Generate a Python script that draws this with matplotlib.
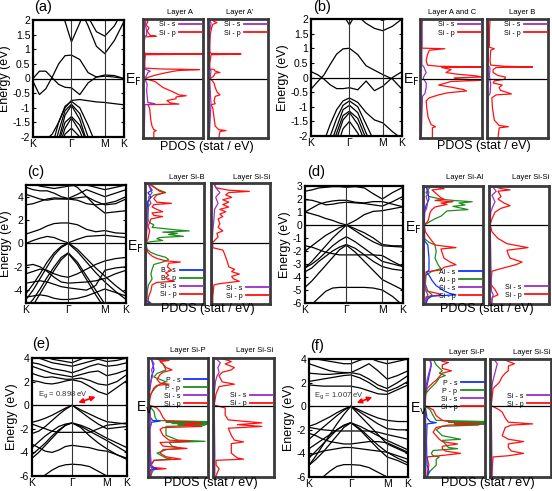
import matplotlib
matplotlib.use('Agg')
import matplotlib.pyplot as plt
from matplotlib.lines import Line2D

plt.rcParams['font.family'] = ['Liberation Sans', 'DejaVu Sans']
plt.rcParams['axes.unicode_minus'] = False

# ---------------- k path (K - Gamma - M - K) ----------------
kpath = [0.0, 0.222, 0.444, 0.667, 0.889, 1.111, 1.333, 1.622, 1.911, 2.199, 2.488, 2.822, 3.155]
k_sym = [0.0, 1.333, 2.488, 3.155]
k_labels = ['K', 'Γ', 'M', 'K']

# ---------------- band energies (eV) at kpath points ----------------
bands_a = [
    [0.0, 0.25, 0.25, 0.02, -0.2, -0.3, -0.32, -0.55, -0.15, 0.05, 0.08, 0.05, 0.0],
    [-0.1, -0.55, -0.35, 0.05, 0.5, 0.78, 0.8, 0.65, 0.2, 0.05, 0.12, 0.1, 0.0],
    [-2.5, -2.3, -2.1, -1.9, -1.5, -1.0, -0.75, -0.72, -0.76, -0.8, -0.82, -0.86, -0.9],
    [-3.0, -3.0, -2.9, -2.3, -1.5, -0.95, -0.78, -1.0, -1.6, -2.3, -2.8, -3.0, -3.0],
    [-3.0, -3.0, -3.0, -2.6, -1.8, -1.1, -0.88, -1.2, -2.0, -2.6, -3.0, -3.0, -3.0],
    [-3.0, -3.0, -3.0, -2.9, -2.1, -1.25, -0.92, -1.4, -2.3, -2.9, -3.0, -3.0, -3.0],
    [-3.0, -3.0, -3.0, -3.0, -2.2, -1.5, -1.3, -1.6, -2.3, -3.0, -3.0, -3.0, -3.0],
    [-3.0, -3.0, -3.0, -3.0, -2.4, -1.7, -1.35, -1.8, -2.5, -3.0, -3.0, -3.0, -3.0],
    [-3.0, -3.0, -3.0, -3.0, -2.5, -1.9, -1.7, -2.0, -2.6, -3.0, -3.0, -3.0, -3.0],
    [3.5, 3.2, 3.0, 2.8, 2.5, 1.95, 1.25, 1.9, 2.6, 3.0, 3.2, 3.3, 3.5],
    [3.0, 3.0, 3.0, 3.0, 3.0, 3.0, 3.0, 2.4, 1.8, 1.1, 0.85, 1.3, 1.95],
    [3.5, 3.5, 3.5, 3.5, 3.5, 3.5, 3.2, 2.6, 2.1, 1.6, 1.45, 1.8, 2.4],
]
bands_b = [
    [0.2, 0.1, -0.05, -0.25, -0.38, -0.38, -0.35, -0.42, -0.12, -0.45, -0.3, 0.0, 0.2],
    [-0.4, -0.15, 0.08, 0.45, 0.8, 0.98, 1.0, 0.78, 0.4, 0.25, 0.1, -0.05, -0.4],
    [3.0, 3.0, 3.0, 3.0, 3.0, 2.15, 1.8, 2.3, 3.0, 3.0, 3.0, 3.0, 3.0],
    [3.0, 3.0, 3.0, 3.0, 3.0, 3.0, 2.6, 2.1, 1.85, 1.68, 1.6, 1.75, 2.0],
    [3.2, 3.2, 3.2, 3.2, 3.2, 3.2, 3.0, 2.6, 2.3, 2.05, 1.95, 2.1, 2.5],
    [-3.0, -2.8, -2.2, -1.6, -1.1, -0.8, -0.7, -0.85, -1.2, -1.45, -1.55, -1.85, -2.1],
    [-3.0, -3.0, -2.6, -2.0, -1.4, -0.95, -0.8, -1.0, -1.6, -2.2, -2.8, -3.0, -3.0],
    [-3.0, -3.0, -2.9, -2.3, -1.7, -1.1, -0.95, -1.2, -1.9, -2.5, -3.0, -3.0, -3.0],
    [-3.0, -3.0, -3.0, -2.5, -1.9, -1.3, -1.15, -1.4, -2.1, -2.8, -3.0, -3.0, -3.0],
    [-3.0, -3.0, -3.0, -2.8, -2.1, -1.45, -1.2, -1.6, -2.3, -3.0, -3.0, -3.0, -3.0],
    [-3.0, -3.0, -3.0, -3.0, -2.4, -1.75, -1.5, -1.9, -2.5, -3.0, -3.0, -3.0, -3.0],
]
bands_c = [
    [0.8, 1.0, 1.2, 1.5, 1.7, 1.75, 1.75, 1.6, 1.2, 1.0, 1.1, 0.9, 0.85],
    [0.0, 0.25, 0.45, 0.6, 0.5, 0.25, 0.05, 0.35, 0.6, 0.65, 0.7, 0.6, 0.5],
    [3.3, 3.4, 3.6, 3.8, 3.9, 3.85, 3.8, 3.7, 3.4, 3.3, 3.4, 3.6, 4.0],
    [4.2, 4.0, 3.8, 3.7, 3.8, 3.8, 3.8, 3.9, 4.0, 3.6, 3.3, 3.4, 3.8],
    [4.8, 4.6, 4.5, 4.5, 4.3, 4.0, 3.85, 4.2, 4.6, 4.3, 4.0, 4.3, 4.6],
    [5.3, 5.1, 4.9, 4.8, 4.7, 4.8, 4.9, 5.0, 5.0, 4.8, 4.6, 4.8, 5.0],
    [6.0, 6.0, 6.0, 6.0, 6.0, 5.5, 5.2, 4.8, 4.0, 3.2, 2.6, 2.7, 2.8],
    [-4.3, -3.5, -2.6, -1.6, -0.8, -0.25, 0.05, -0.5, -1.3, -2.1, -2.8, -3.6, -4.3],
    [-4.8, -4.0, -3.0, -2.0, -1.0, -0.35, 0.0, -0.7, -1.6, -2.5, -3.3, -4.1, -4.8],
    [-5.5, -4.8, -3.9, -2.9, -2.0, -1.2, -0.8, -1.6, -2.8, -4.0, -5.2, -5.5, -5.5],
    [-6.0, -5.3, -4.3, -3.3, -2.3, -1.4, -0.85, -1.8, -3.1, -4.4, -5.6, -6.0, -6.0],
    [-1.9, -1.8, -2.0, -2.4, -2.9, -3.3, -3.4, -3.35, -3.3, -3.2, -3.0, -2.6, -2.3],
    [-2.6, -2.4, -2.2, -2.3, -2.6, -2.8, -2.9, -2.6, -2.2, -1.8, -1.5, -1.3, -1.2],
    [-3.4, -3.3, -3.2, -3.3, -3.5, -3.7, -3.8, -3.9, -4.0, -3.6, -2.3, -2.1, -2.0],
    [-4.6, -4.5, -4.4, -4.5, -4.7, -4.8, -4.8, -4.7, -4.5, -4.2, -3.9, -4.2, -4.5],
]
bands_d = [
    [2.6, 2.7, 2.85, 2.9, 2.95, 2.95, 2.9, 2.95, 2.85, 2.4, 2.0, 2.5, 2.9],
    [1.95, 1.9, 1.75, 1.55, 1.6, 1.7, 1.75, 1.7, 1.65, 1.55, 1.45, 1.8, 2.2],
    [1.0, 1.3, 1.6, 1.75, 1.85, 1.9, 1.9, 1.75, 1.7, 1.8, 1.8, 1.6, 1.4],
    [1.0, 0.85, 0.7, 0.5, 0.35, 0.15, 0.0, 0.35, 0.8, 1.05, 1.1, 1.25, 1.4],
    [-3.3, -2.8, -2.2, -1.6, -1.0, -0.5, 0.0, -0.45, -0.9, -1.3, -1.6, -1.65, -1.7],
    [-2.0, -1.6, -1.2, -0.8, -0.5, -0.2, 0.0, -0.3, -0.6, -1.0, -1.5, -1.6, -1.6],
    [-3.3, -3.0, -2.6, -2.1, -1.6, -1.2, -0.9, -1.3, -1.8, -2.3, -2.8, -3.0, -3.2],
    [-3.6, -3.3, -2.8, -2.4, -2.0, -1.7, -1.5, -1.8, -2.3, -2.8, -3.2, -3.4, -3.5],
    [-4.8, -4.3, -3.7, -3.1, -2.5, -1.9, -1.55, -2.1, -2.8, -3.5, -4.2, -4.6, -5.0],
    [-1.6, -1.7, -1.9, -2.1, -2.2, -2.3, -2.3, -2.3, -2.3, -2.3, -2.35, -2.8, -3.2],
    [-6.5, -6.1, -5.6, -5.1, -4.85, -4.8, -4.8, -4.8, -4.8, -4.85, -5.0, -5.5, -6.2],
]
bands_e = [
    [2.1, 2.0, 1.85, 1.8, 1.9, 2.05, 2.15, 2.0, 1.6, 1.15, 0.9, 1.5, 2.1],
    [2.7, 2.5, 2.35, 2.4, 2.3, 2.2, 2.2, 2.3, 2.1, 1.8, 1.7, 2.0, 2.6],
    [3.3, 3.1, 2.9, 2.7, 2.6, 2.5, 2.4, 2.6, 2.8, 2.9, 2.5, 2.7, 3.0],
    [3.6, 3.5, 3.3, 3.1, 3.0, 2.9, 2.75, 3.0, 3.3, 3.5, 3.3, 3.4, 3.6],
    [4.2, 4.0, 3.8, 3.6, 3.5, 3.4, 3.3, 3.5, 3.7, 3.9, 3.7, 3.8, 4.0],
    [4.5, 4.3, 4.1, 3.9, 3.8, 3.7, 3.6, 3.9, 4.2, 4.5, 4.5, 4.3, 4.1],
    [-1.45, -1.3, -1.1, -0.85, -0.55, -0.25, 0.0, -0.4, -0.75, -1.1, -1.4, -1.5, -1.6],
    [-2.4, -2.2, -1.8, -1.3, -0.8, -0.35, 0.0, -0.55, -1.1, -1.6, -2.0, -1.9, -1.8],
    [-4.2, -3.7, -3.2, -2.6, -2.1, -1.7, -1.5, -1.8, -2.2, -2.6, -3.0, -3.5, -4.0],
    [-3.6, -3.1, -2.6, -2.2, -1.8, -1.6, -1.5, -1.7, -2.0, -2.4, -2.8, -3.2, -3.6],
    [-4.5, -4.0, -3.4, -2.8, -2.2, -1.7, -1.5, -1.9, -2.6, -3.2, -3.7, -4.2, -4.6],
    [-1.6, -1.8, -2.0, -2.2, -2.3, -2.3, -2.3, -2.3, -2.3, -2.0, -1.7, -1.6, -1.5],
    [-3.3, -3.6, -3.9, -4.0, -3.8, -3.5, -3.4, -3.5, -3.6, -3.8, -3.9, -4.2, -4.5],
    [-6.5, -6.3, -5.9, -5.5, -5.2, -5.05, -5.0, -5.05, -5.2, -5.6, -6.0, -6.3, -6.5],
]
bands_f = [
    [1.8, 1.75, 1.7, 1.7, 1.7, 1.7, 1.7, 1.55, 1.3, 1.05, 1.0, 1.4, 1.8],
    [2.1, 2.2, 2.3, 2.4, 2.5, 2.6, 2.65, 2.4, 2.0, 1.5, 1.25, 1.6, 2.1],
    [2.8, 2.75, 2.7, 2.7, 2.75, 2.8, 2.85, 2.7, 2.3, 1.8, 1.5, 2.0, 2.6],
    [3.6, 3.4, 3.2, 3.0, 2.9, 2.85, 2.85, 3.2, 3.6, 3.0, 2.3, 2.6, 3.0],
    [4.2, 4.0, 3.9, 3.8, 3.7, 3.6, 3.6, 3.9, 4.1, 3.8, 3.6, 3.8, 4.0],
    [-1.7, -1.5, -1.2, -0.9, -0.55, -0.25, 0.0, -0.35, -0.7, -1.0, -1.2, -1.3, -1.3],
    [-2.8, -2.3, -1.8, -1.3, -0.8, -0.35, 0.0, -0.5, -1.0, -1.5, -1.9, -2.0, -2.0],
    [-5.0, -4.2, -3.3, -2.4, -1.5, -0.7, 0.0, -0.8, -1.6, -2.4, -3.2, -3.6, -4.0],
    [-3.6, -3.2, -2.8, -2.4, -2.0, -1.65, -1.4, -1.7, -2.1, -2.5, -2.9, -3.3, -3.7],
    [-4.4, -3.8, -3.2, -2.6, -2.0, -1.6, -1.4, -1.9, -2.6, -3.3, -3.9, -4.2, -4.5],
    [-5.0, -4.5, -3.9, -3.2, -2.5, -1.8, -1.4, -2.0, -2.8, -3.6, -4.3, -4.6, -5.0],
    [-1.8, -1.9, -2.0, -2.05, -2.1, -2.1, -2.1, -2.1, -2.1, -2.2, -2.4, -2.6, -2.8],
    [-2.3, -2.5, -2.8, -3.0, -3.1, -3.2, -3.2, -3.1, -3.0, -3.0, -3.1, -3.5, -3.9],
    [-6.6, -6.4, -6.0, -5.5, -5.1, -4.95, -4.95, -5.0, -5.2, -5.6, -6.0, -6.4, -6.6],
    [-4.2, -4.0, -3.8, -3.7, -3.6, -3.5, -3.5, -3.6, -3.7, -3.8, -3.9, -4.4, -4.8],
]

# ---------------- PDOS curves: (energy eV, states/eV scaled) ----------------
a_A_p = [(2.0, .06), (1.9, .08), (1.8, .05), (1.7, .1), (1.6, .07), (1.5, .1), (1.45, .12), (1.42, .22), (1.4, .03),
         (1.2, .02), (0.9, .02), (0.84, .04), (0.82, 1.0), (0.8, .04), (0.6, .03), (0.35, .03), (0.32, .3), (0.3, .94),
         (0.27, .6), (0.24, .5), (0.18, .35), (0.12, .22), (0.06, .12), (0.02, .05), (-0.02, .06), (-0.1, .2),
         (-0.3, .33), (-0.45, .5), (-0.55, .6), (-0.58, .72), (-0.62, .55), (-0.68, .55), (-0.74, .4), (-0.82, .45),
         (-0.86, .6), (-0.88, .08), (-1.0, .11), (-1.2, .12), (-1.4, .13), (-1.6, .15), (-1.72, .18), (-1.75, .22),
         (-1.8, .18), (-2.0, .18)]
a_A_s = [(2.0, .05), (1.8, .04), (1.6, .06), (1.45, .06), (1.4, .02), (0.85, .02), (0.82, .04), (0.8, .02), (0.32, .02),
         (0.3, .05), (0.25, .12), (0.2, .08), (0.1, .06), (0.02, .03), (-0.05, .04), (-0.2, .07), (-0.4, .06),
         (-0.6, .07), (-0.8, .08), (-0.85, .2), (-0.88, .03), (-2.0, .02)]
a_B_p = [(2.0, .05), (1.92, .1), (1.88, .15), (1.82, .08), (1.7, .06), (1.5, .04), (1.2, .03), (0.9, .03), (0.84, .05),
         (0.82, .55), (0.8, .05), (0.5, .03), (0.32, .03), (0.3, .1), (0.25, .12), (0.2, .2), (0.18, .12), (0.1, .1),
         (0.05, .08), (0.02, .03), (-0.05, .06), (-0.15, .1), (-0.3, .12), (-0.45, .15), (-0.55, .2), (-0.6, .12),
         (-0.75, .1), (-0.85, .12), (-0.88, .05), (-1.0, .08), (-1.3, .1), (-1.6, .12), (-1.72, .18), (-1.75, .3),
         (-1.78, .2), (-2.0, .18)]
a_B_s = [(2.0, .03), (1.85, .05), (1.6, .03), (0.35, .02), (0.25, .05), (0.1, .04), (-0.1, .03), (-0.5, .04),
         (-0.85, .05), (-2.0, .02)]

b_A_p = [(2.0, .04), (1.8, .03), (1.5, .03), (1.02, .03), (1.0, .4), (0.95, .15), (0.8, .12), (0.6, .1), (0.45, .12),
         (0.41, .3), (0.39, 1.0), (0.37, .35), (0.3, .5), (0.2, .42), (0.15, .58), (0.09, .9), (0.05, 1.0), (0.02, .55),
         (-0.02, .6), (-0.06, 1.0), (-0.1, .5), (-0.15, .42), (-0.22, .3), (-0.29, .5), (-0.37, .7), (-0.42, .75),
         (-0.48, .45), (-0.55, .3), (-0.65, .15), (-0.75, .1), (-1.0, .11), (-1.3, .13), (-1.55, .18), (-1.62, .25),
         (-1.66, .2), (-2.0, .2)]
b_A_s = [(2.0, .03), (1.0, .03), (0.45, .03), (0.4, .06), (0.3, .08), (0.2, .1), (0.1, .07), (0.0, .05), (-0.15, .1),
         (-0.3, .1), (-0.5, .08), (-0.6, .04), (-2.0, .02)]
b_B_p = [(2.0, .05), (1.6, .04), (1.05, .04), (1.0, .12), (0.95, .06), (0.6, .05), (0.45, .06), (0.41, .3), (0.39, .75),
         (0.37, .15), (0.3, .1), (0.2, .1), (0.1, .18), (0.05, .3), (0.02, .3), (-0.03, .28), (-0.08, .12), (-0.15, .1),
         (-0.22, .25), (-0.3, .2), (-0.4, .22), (-0.48, .35), (-0.52, .4), (-0.55, .15), (-0.65, .08), (-1.0, .09),
         (-1.4, .12), (-1.58, .2), (-1.62, .35), (-1.66, .2), (-2.0, .18)]
b_B_s = [(2.0, .02), (0.45, .02), (0.35, .05), (0.1, .04), (-0.2, .06), (-0.5, .05), (-0.6, .02), (-2.0, .02)]

c_A_p = [(5.1, .05), (4.8, .1), (4.5, .2), (4.3, .25), (4.2, .33), (4.0, .2), (3.7, .15), (3.4, .2), (3.3, .45), (3.2, .15),
         (3.0, .12), (2.8, .2), (2.6, .3), (2.5, .12), (2.3, .15), (2.2, .3), (2.0, .1), (1.7, .08), (1.4, .05), (1.0, .08),
         (0.6, .06), (0.3, .05), (0.05, .02), (-0.3, .02), (-0.8, .05), (-1.1, .12), (-1.3, .2), (-1.5, .35), (-1.6, .6),
         (-1.7, .4), (-2.0, .38), (-2.3, .45), (-2.5, .35), (-2.7, .4), (-2.9, .35), (-3.1, .4), (-3.2, .5), (-3.3, .2),
         (-3.5, .12), (-4.0, .1), (-4.5, .06), (-5.1, .05)]
c_A_pX = [(5.1, .05), (4.8, .12), (4.5, .2), (4.3, .3), (4.2, .35), (4.0, .15), (3.7, .08), (3.4, .05), (3.0, .06),
          (2.5, .05), (2.0, .04), (1.7, .08), (1.5, .15), (1.3, .12), (1.1, .5), (1.0, .75), (0.9, .3), (0.8, .55),
          (0.7, .4), (0.55, .65), (0.45, .25), (0.35, .2), (0.2, .3), (0.1, .1), (0.02, .02), (-0.5, .03), (-0.8, .1),
          (-1.0, .2), (-1.2, .35), (-1.4, .4), (-1.6, .3), (-1.8, .15), (-2.2, .12), (-2.6, .1), (-3.0, .12),
          (-3.5, .06), (-4.0, .04), (-4.8, .03), (-5.0, .1), (-5.1, .05)]
c_A_sX = [(5.1, .03), (4.7, .08), (4.4, .12), (4.2, .05), (3.8, .1), (3.5, .05), (3.0, .04), (2.0, .02), (-4.8, .02),
          (-5.0, .08), (-5.1, .03)]
c_A_s = [(5.1, .04), (4.6, .08), (4.2, .12), (3.8, .06), (3.3, .1), (3.0, .05), (2.0, .05), (1.0, .03), (0.0, .02),
         (-2.0, .02), (-4.0, .03), (-5.1, .03)]
c_B_p = [(5.1, .05), (4.6, .08), (4.4, .3), (4.3, .65), (4.2, .3), (4.0, .25), (3.8, .35), (3.6, .2), (3.4, .3), (3.2, .2),
         (3.0, .3), (2.8, .15), (2.6, .25), (2.4, .15), (2.2, .2), (2.0, .12), (1.6, .15), (1.3, .12), (1.0, .2), (0.8, .1),
         (0.5, .12), (0.3, .08), (0.05, .03), (-0.4, .03), (-0.6, .2), (-0.8, .22), (-1.2, .25), (-1.6, .28), (-2.0, .3),
         (-2.2, .4), (-2.4, .35), (-2.6, .48), (-2.8, .35), (-3.0, .38), (-3.2, .48), (-3.4, .15), (-3.5, .05),
         (-4.5, .03), (-5.1, .03)]
c_B_s = [(5.1, .03), (4.5, .1), (4.2, .15), (3.8, .08), (3.3, .12), (2.8, .06), (2.0, .05), (1.0, .03), (0.0, .02),
         (-5.1, .02)]

d_A_p = [(3.0, .1), (2.85, .3), (2.8, .35), (2.7, .15), (2.5, .2), (2.3, .25), (2.1, .3), (2.0, .35), (1.9, .2), (1.8, .5),
         (1.7, .3), (1.6, .4), (1.4, .2), (1.2, .15), (1.0, .12), (0.6, .1), (0.3, .08), (0.05, .02), (-0.5, .04),
         (-0.9, .1), (-1.2, .15), (-1.5, .2), (-1.7, .55), (-1.8, .3), (-2.1, .32), (-2.5, .35), (-2.8, .45), (-3.0, .55),
         (-3.2, .35), (-3.4, .3), (-3.55, .05), (-4.5, .03), (-5.0, .05), (-5.2, .25), (-5.3, .3), (-5.45, .05),
         (-6.0, .05)]
d_A_pX = [(3.0, .15), (2.8, .1), (2.5, .05), (2.2, .1), (2.0, .3), (1.9, .5), (1.8, .82), (1.7, .6), (1.55, .7),
          (1.45, .5), (1.3, .65), (1.2, .75), (1.1, .4), (0.9, .35), (0.7, .3), (0.5, .2), (0.3, .12), (0.1, .05),
          (0.0, .02), (-1.0, .02), (-1.3, .1), (-1.5, .2), (-2.0, .22), (-2.5, .2), (-3.0, .25), (-3.3, .3), (-3.5, .15),
          (-3.8, .05), (-4.5, .04), (-5.0, .08), (-5.3, .15), (-5.6, .05), (-6.0, .05)]
d_A_sX = [(3.0, .05), (2.5, .08), (2.0, .1), (1.5, .05), (1.0, .02), (0.0, .02), (-1.2, .03), (-1.5, .08), (-2.5, .1),
          (-3.4, .1), (-3.6, .06), (-3.8, .1), (-4.2, .15), (-4.6, .22), (-5.0, .35), (-5.2, .45), (-5.3, .55),
          (-5.4, .15), (-5.6, .08), (-6.0, .05)]
d_A_s = [(3.0, .05), (2.5, .1), (2.2, .05), (1.8, .08), (1.3, .06), (1.0, .03), (0.0, .02), (-3.5, .02), (-5.0, .05),
         (-5.3, .08), (-6.0, .03)]
d_B_p = [(3.0, .06), (2.8, .2), (2.7, .35), (2.6, .15), (2.2, .2), (2.0, .15), (1.7, .25), (1.5, .35), (1.3, .2),
         (1.0, .1), (0.5, .05), (0.05, .02), (-0.5, .05), (-1.0, .15), (-1.4, .3), (-1.7, .65), (-1.9, .3), (-2.2, .32),
         (-2.5, .35), (-2.8, .55), (-3.0, .45), (-3.3, .2), (-3.5, .05), (-4.5, .03), (-4.9, .1), (-5.3, .15),
         (-5.5, .05), (-6.0, .05)]
d_B_s = [(3.0, .05), (2.6, .12), (2.3, .05), (1.8, .1), (1.4, .06), (1.0, .03), (0.0, .02), (-5.0, .04), (-5.3, .07),
         (-6.0, .03)]

e_A_p = [(4.0, .1), (3.85, .2), (3.8, .35), (3.7, .2), (3.5, .25), (3.2, .3), (3.0, .4), (2.8, .25), (2.6, .2),
         (2.2, .15), (1.9, .2), (1.8, .35), (1.7, .15), (1.5, .1), (1.0, .05), (0.5, .03), (0.05, .02), (-0.2, .15),
         (-0.5, .2), (-1.0, .25), (-1.3, .3), (-1.45, .9), (-1.6, .6), (-1.75, .9), (-1.85, .25), (-2.0, .2),
         (-2.5, .25), (-2.9, .35), (-3.0, .7), (-3.1, .2), (-3.4, .25), (-3.6, .65), (-3.7, .25), (-4.0, .2),
         (-4.3, .3), (-4.5, .55), (-4.6, .1), (-5.0, .05), (-5.2, .1), (-5.3, .3), (-5.4, .05), (-6.0, .05)]
e_A_pX = [(4.0, .12), (3.8, .2), (3.5, .25), (3.0, .3), (2.7, .15), (2.4, .1), (2.1, .25), (2.0, .3), (1.8, .2),
          (1.5, .12), (1.0, .05), (0.5, .02), (0.0, .02), (-0.5, .1), (-1.0, .12), (-1.25, .15), (-1.35, 1.0),
          (-1.4, .3), (-1.45, 1.0), (-1.5, .4), (-1.55, 1.0), (-1.6, .5), (-1.65, .95), (-1.75, .3), (-2.0, .3),
          (-2.5, .3), (-2.9, .5), (-3.0, .95), (-3.1, .35), (-3.4, .4), (-3.6, .55), (-3.7, .3), (-4.0, .15),
          (-4.4, .3), (-4.5, .4), (-4.6, .1), (-5.0, .05), (-5.3, .1), (-6.0, .03)]
e_A_sX = [(4.0, .05), (3.5, .08), (3.0, .1), (2.5, .06), (2.0, .05), (1.0, .02), (0.0, .02), (-1.0, .04), (-1.25, .08),
          (-1.3, .2), (-1.4, .06), (-2.0, .03), (-4.0, .03), (-5.2, .05), (-5.3, .15), (-5.4, .04), (-6.0, .03)]
e_A_s = [(4.0, .05), (3.5, .1), (3.0, .06), (2.5, .08), (2.0, .04), (1.0, .02), (0.0, .02), (-1.5, .05), (-2.0, .03),
         (-4.0, .04), (-5.3, .06), (-6.0, .03)]
e_B_p = [(4.0, .1), (3.8, .25), (3.7, .3), (3.5, .2), (3.2, .35), (3.0, .3), (2.8, .15), (2.5, .1), (2.0, .15), (1.8, .35),
         (1.6, .1), (1.0, .05), (0.05, .02), (-0.2, .2), (-0.8, .2), (-1.2, .25), (-1.45, .8), (-1.6, .4), (-1.75, .8),
         (-1.9, .25), (-2.5, .3), (-2.9, .35), (-3.05, .5), (-3.2, .3), (-3.6, .3), (-4.0, .3), (-4.4, .4), (-4.5, .5),
         (-4.6, .05), (-5.0, .05), (-5.3, .1), (-6.0, .04)]
e_B_s = [(4.0, .04), (3.6, .12), (3.2, .08), (2.8, .1), (2.4, .06), (2.0, .04), (1.0, .02), (0.0, .02), (-4.0, .03),
         (-6.0, .03)]

f_A_p = [(4.0, .25), (3.8, .3), (3.7, .4), (3.5, .3), (3.2, .3), (3.0, .45), (2.8, .3), (2.5, .25), (2.2, .2), (2.0, .15),
         (1.5, .05), (1.0, .03), (0.05, .02), (-0.3, .15), (-0.8, .2), (-1.2, .3), (-1.4, .5), (-1.5, .95), (-1.6, .4),
         (-1.8, .2), (-2.2, .15), (-2.8, .25), (-3.0, .3), (-3.2, .55), (-3.4, .3), (-3.6, .3), (-3.8, .35), (-4.0, .6),
         (-4.2, .25), (-4.3, .05), (-5.0, .08), (-5.5, .06), (-6.0, .05)]
f_A_pX = [(4.0, .15), (3.5, .2), (3.0, .3), (2.8, .25), (2.6, .35), (2.4, .25), (2.0, .2), (1.5, .1), (1.2, .05),
          (1.0, .02), (0.0, .02), (-0.3, .1), (-0.8, .15), (-1.2, .2), (-1.3, 1.0), (-1.35, .4), (-1.4, 1.0),
          (-1.45, .5), (-1.5, 1.0), (-1.55, .5), (-1.6, .9), (-1.7, .3), (-2.0, .2), (-2.5, .3), (-2.8, .6), (-2.9, .3),
          (-3.2, .35), (-3.5, .4), (-3.6, .55), (-3.75, .15), (-4.0, .12), (-4.2, .15), (-4.3, .25), (-4.5, .2),
          (-5.0, .2), (-5.5, .1), (-6.0, .05)]
f_A_sX = [(4.0, .1), (3.5, .12), (3.0, .1), (2.5, .08), (2.0, .06), (1.0, .02), (0.0, .02), (-1.0, .05), (-1.3, .1),
          (-1.4, .2), (-1.5, .05), (-3.0, .04), (-5.0, .05), (-5.5, .08), (-6.0, .05)]
f_A_s = [(4.0, .08), (3.6, .12), (3.2, .1), (2.8, .08), (2.2, .05), (1.0, .02), (0.0, .02), (-2.0, .03), (-4.0, .03),
         (-6.0, .03)]
f_B_p = [(4.0, .2), (3.8, .3), (3.6, .4), (3.4, .3), (3.0, .3), (2.8, .25), (2.5, .2), (2.0, .15), (1.5, .05),
         (0.05, .02), (-0.3, .15), (-0.5, .2), (-1.0, .25), (-1.35, .3), (-1.5, .7), (-1.6, .35), (-1.8, .25),
         (-2.5, .2), (-2.8, .3), (-3.0, .55), (-3.2, .3), (-3.5, .3), (-3.8, .35), (-4.0, .55), (-4.2, .3), (-4.3, .05),
         (-5.0, .04), (-6.0, .03)]
f_B_s = [(4.0, .06), (3.6, .12), (3.2, .1), (2.8, .08), (2.4, .06), (2.0, .04), (1.0, .02), (0.0, .02), (-4.0, .03),
         (-6.0, .03)]

C_SIS = '#9b30c8'
C_SIP = '#ff1010'
C_XS = '#1030ff'
C_XP = '#1e8c1e'

W, H = 552, 491
fig = plt.figure(figsize=(W / 100, H / 100), dpi=100)


def box(x0, y0, x1, y1):
    return [x0 / W, 1 - y1 / H, (x1 - x0) / W, (y1 - y0) / H]


def ftext(x, y, s, **kw):
    fig.text(x / W, 1 - y / H, s, **kw)


def band_panel(rect, bands, ylim, yticks):
    ax = fig.add_axes(box(*rect))
    for b in bands:
        ax.plot(kpath, b, color='black', lw=0.9)
    ax.axhline(0, color='black', lw=0.9)
    for k in k_sym[1:-1]:
        ax.axvline(k, color='#333333', lw=0.8)
    ax.set_xlim(k_sym[0], k_sym[-1])
    ax.set_ylim(ylim)
    ax.set_xticks(k_sym)
    ax.set_xticklabels(k_labels)
    ax.set_yticks(yticks)
    ax.set_yticklabels(['%g' % t for t in yticks])
    ax.tick_params(axis='x', length=0, labelsize=7.5, pad=1.5)
    ax.tick_params(axis='y', direction='in', length=2.5, labelsize=7.5, pad=2, right=True)
    for s in ax.spines.values():
        s.set_linewidth(1.6)
    ax.set_ylabel('Energy (eV)', fontsize=9, labelpad=1)
    return ax


def pdos_panel(rect, curves, ylim, legend_anchor, legend_loc):
    ax = fig.add_axes(box(*rect))
    handles = []
    for pts, color, label in curves:
        ax.plot([p[1] for p in pts], [p[0] for p in pts], color=color, lw=0.9)
        handles.append(Line2D([], [], color=color, lw=1.3, label=label))
    ax.axhline(0, color='black', lw=0.9)
    ax.set_xlim(0, 1)
    ax.set_ylim(ylim)
    ax.set_xticks([])
    ax.set_yticks([])
    for s in ax.spines.values():
        s.set_linewidth(2)
        s.set_color('#3a3a3a')
    order = {'s': 0, 'p': 1}
    handles.sort(key=lambda h: (h.get_label().startswith('Si'), order[h.get_label()[-1]]))
    ax.legend(handles=handles, loc=legend_loc, bbox_to_anchor=legend_anchor, frameon=False, fontsize=5,
              markerfirst=False, handlelength=3.4, handletextpad=0.5, labelspacing=0.15, borderaxespad=0,
              borderpad=0.1)
    return ax


# ---------------- panel (a) ----------------
band_panel((33, 20, 124, 137), bands_a, (-2, 2), [-2, -1.5, -1, -0.5, 0, 0.5, 1, 1.5, 2])
pdos_panel((143, 19, 203, 138), [(a_A_p, C_SIP, 'Si - p'), (a_A_s, C_SIS, 'Si - s')], (-2, 2),
           (1.0, 0.985), 'upper right')
pdos_panel((208, 19, 268, 138), [(a_B_p, C_SIP, 'Si - p'), (a_B_s, C_SIS, 'Si - s')], (-2, 2),
           (1.0, 0.985), 'upper right')

# ---------------- panel (b) ----------------
band_panel((311, 19, 402, 136), bands_b, (-2, 2), [-2, -1.5, -1, -0.5, 0, 0.5, 1, 1.5, 2])
pdos_panel((420, 19, 482, 138), [(b_A_p, C_SIP, 'Si - p'), (b_A_s, C_SIS, 'Si - s')], (-2, 2),
           (1.0, 0.985), 'upper right')
pdos_panel((487, 19, 548, 138), [(b_B_p, C_SIP, 'Si - p'), (b_B_s, C_SIS, 'Si - s')], (-2, 2),
           (1.0, 0.985), 'upper right')

# ---------------- panel (c) ----------------
band_panel((26, 185, 126, 303), bands_c, (-5.1, 5.0), [-4, -2, 0, 2, 4])
pdos_panel((145, 183, 204, 304), [(c_A_pX, C_XP, 'B - p'), (c_A_p, C_SIP, 'Si - p'), (c_A_sX, C_XS, 'B - s'),
                                  (c_A_s, C_SIS, 'Si - s')], (-5.1, 5.0), (1.0, 0.04), 'lower right')
pdos_panel((211, 183, 270, 304), [(c_B_p, C_SIP, 'Si - p'), (c_B_s, C_SIS, 'Si - s')], (-5.1, 5.0),
           (1.0, 0.03), 'lower right')

# ---------------- panel (d) ----------------
band_panel((305, 186, 403, 303), bands_d, (-6, 3), [-6, -5, -4, -3, -2, -1, 0, 1, 2, 3])
pdos_panel((423, 186, 483, 304), [(d_A_pX, C_XP, 'Al - p'), (d_A_p, C_SIP, 'Si - p'), (d_A_sX, C_XS, 'Al - s'),
                                  (d_A_s, C_SIS, 'Si - s')], (-6, 3), (1.0, 0.03), 'lower right')
pdos_panel((489, 186, 549, 304), [(d_B_p, C_SIP, 'Si - p'), (d_B_s, C_SIS, 'Si - s')], (-6, 3),
           (1.0, 0.04), 'lower right')

# ---------------- panel (e) ----------------
ax_e = band_panel((32, 358, 127, 476), bands_e, (-6, 4), [-6, -4, -2, 0, 2, 4])
pdos_panel((148, 358, 208, 477), [(e_A_pX, C_XP, 'P - p'), (e_A_p, C_SIP, 'Si - p'), (e_A_sX, C_XS, 'P - s'),
                                  (e_A_s, C_SIS, 'Si - s')], (-6, 4), (1.0, 0.85), 'upper right')
pdos_panel((213, 358, 274, 477), [(e_B_p, C_SIP, 'Si - p'), (e_B_s, C_SIS, 'Si - s')], (-6, 4),
           (1.0, 0.72), 'upper right')

# ---------------- panel (f) ----------------
ax_f = band_panel((309, 359, 408, 477), bands_f, (-6, 4), [-6, -4, -2, 0, 2, 4])
pdos_panel((424, 359, 485, 477), [(f_A_pX, C_XP, 'P - p'), (f_A_p, C_SIP, 'Si - p'), (f_A_sX, C_XS, 'P - s'),
                                  (f_A_s, C_SIS, 'Si - s')], (-6, 4), (1.0, 0.83), 'upper right')
pdos_panel((490, 359, 551, 477), [(f_B_p, C_SIP, 'Si - p'), (f_B_s, C_SIS, 'Si - s')], (-6, 4),
           (1.0, 0.72), 'upper right')

# band gap annotations
gap_e = 0.898
gap_f = 1.007
ax_e.text(0.2, 0.8, r'E$_\mathrm{g}$ = %.3f eV' % gap_e, fontsize=5.5, color='#333333', va='center')
ax_e.annotate('', xy=(1.45, 0.15), xytext=(2.2, 0.78),
              arrowprops=dict(arrowstyle='<|-|>', color='red', lw=1.2, mutation_scale=7))
ax_f.text(0.16, 0.8, r'E$_\mathrm{g}$ = %.3f eV' % gap_f, fontsize=5.5, color='#333333', va='center')
ax_f.annotate('', xy=(1.44, 0.2), xytext=(2.1, 0.85),
              arrowprops=dict(arrowstyle='<|-|>', color='red', lw=1.2, mutation_scale=7))

# ---------------- figure texts ----------------
for lab, x, y in [('(a)', 43, 7), ('(b)', 322, 7), ('(c)', 36, 172), ('(d)', 316, 172), ('(e)', 41, 344),
                  ('(f)', 317, 346)]:
    ftext(x, y, lab, fontsize=10.5, ha='center', va='center')

for lab, x, y in [('Layer A', 180, 13), ("Layer A'", 240, 13), ('Layer A and C', 452, 12), ('Layer B', 522, 12),
                  ('Layer Si-B', 187, 177), ('Layer Si-Si', 252, 177), ('Layer Si-Al', 465, 177),
                  ('Layer Si-Si', 531, 177), ('Layer Si-P', 188, 350), ('Layer Si-Si', 255, 350),
                  ('Layer Si-P', 467, 352), ('Layer Si-Si', 532, 352)]:
    ftext(x, y, lab, fontsize=5.5, ha='center', va='center')

for x, y in [(207, 147), (484, 146), (208, 309), (487, 309), (211, 483), (488, 483)]:
    ftext(x, y, 'PDOS (stat / eV)', fontsize=9, ha='center', va='center')

for lab, x, y in [(r'E$_\mathrm{F}$', 125, 80), (r'E$_\mathrm{F}$', 403, 80), (r'E$_\mathrm{F}$', 127, 247),
                  (r'E$_\mathrm{F}$', 405, 228), (r'E$_\mathrm{v}$', 136, 408), (r'E$_\mathrm{v}$', 410, 409)]:
    ftext(x, y, lab, fontsize=10, ha='left', va='center')

fig.savefig('out.png', dpi=100)
